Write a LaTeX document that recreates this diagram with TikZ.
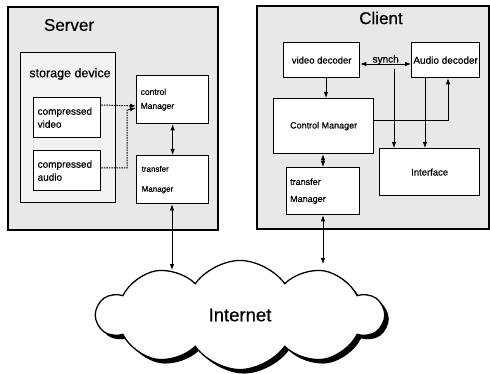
\documentclass[tikz,border=0pt]{standalone}
\usepackage{fontspec}
\setmainfont{Liberation Sans}[FakeBold=0.5]
\usetikzlibrary{arrows.meta,shapes.symbols,shadows}
\newcommand{\txtsize}[2]{\fontsize{#1}{#2}\selectfont}
\begin{document}
\begin{tikzpicture}[x=1pt,y=-1pt,
  panel/.style={draw=black, line width=1.6pt, fill=black!9},
  store/.style={draw=black, line width=1.4pt, fill=black!5},
  blk/.style={draw=black, line width=1.3pt, fill=white, anchor=north west, inner sep=0pt},
  title/.style={inner sep=0pt, font=\txtsize{17}{19}},
  tip/.style={-{Latex[length=6pt,width=4.5pt]}, line width=0.8pt},
  dtip/.style={{Latex[length=6pt,width=4.5pt]}-{Latex[length=6pt,width=4.5pt]}, line width=0.8pt},
  dottip/.style={-{Latex[length=6pt,width=4.5pt]}, line width=1pt, dash pattern=on 1.5pt off 1pt}]
\useasboundingbox (0,0) rectangle (490,374);

% ---------- server side ----------
\node[panel, anchor=north west, minimum width=210pt, minimum height=223pt] (server) at (7,6) {};
\node[title] (servertitle) at (69,25) {Server};
\node[store, anchor=north west, minimum width=95pt, minimum height=150pt] (storage) at (20,52) {};
\node[inner sep=0pt, font=\txtsize{12.5}{14}] (storagetitle) at (70,74) {storage device};
\node[blk, minimum width=67pt, minimum height=40pt, text width=59pt, align=left,
      font=\txtsize{10}{13}] (cvideo) at (33,97) {compressed\\video};
\node[blk, minimum width=67pt, minimum height=40pt, text width=59pt, align=left,
      font=\txtsize{10}{13}] (caudio) at (33,150) {compressed\\audio};
\node[blk, minimum width=72pt, minimum height=48pt, text width=64pt, align=left,
      font=\txtsize{8.5}{14}] (sctrl) at (136,75) {control\\Manager};
\node[blk, minimum width=72pt, minimum height=48pt, text width=62pt, align=left,
      font=\txtsize{8}{20}] (strans) at (136,155) {transfer\\Manager};

\coordinate (abend) at (127,168);
\coordinate (abtop) at (127,110);
\draw[dottip] (cvideo.east |- 0,105) -- (sctrl.west |- 0,106);
\draw[dottip] (caudio.east |- abend) -- (abend) -- (abtop) -- (sctrl.west |- 0,108);
\draw[dtip] (sctrl.south) -- (strans.north);

% ---------- client side ----------
\node[panel, anchor=north west, minimum width=232pt, minimum height=223pt] (client) at (256,5) {};
\node[title] (clienttitle) at (381,18) {Client};
\node[blk, minimum width=76pt, minimum height=35pt, font=\txtsize{9.5}{11}] (vdec) at (283,42) {video decoder};
\node[blk, minimum width=68pt, minimum height=35pt, font=\txtsize{10}{11}] (adec) at (411,42) {Audio decoder};
\node[blk, minimum width=100pt, minimum height=55pt, font=\txtsize{9}{11}] (cctrl) at (273,98) {Control Manager};
\node[blk, minimum width=73pt, minimum height=47pt, text width=66pt, align=left,
      font=\txtsize{9}{17}] (ctrans) at (286,167) {transfer\\Manager};
\node[blk, minimum width=100pt, minimum height=47pt, font=\txtsize{9.5}{11}] (iface) at (379,148) {Interface};

\draw[dtip] (vdec.east |- 0,64) -- node[above=-2pt, inner sep=1pt, font=\txtsize{10}{11}] (synch) {synch} (adec.west |- 0,64);
\coordinate (syncdrop) at (394,69);
\draw[tip] (syncdrop) -- (syncdrop |- iface.north);
\draw[tip] (vdec.south -| 326,0) -- (cctrl.north -| 326,0);
\draw[tip] (adec.south -| 425,0) -- (iface.north -| 425,0);
\coordinate (cbend) at (448,120);
\draw[tip] (cctrl.east |- cbend) -- (cbend) -- (cbend |- adec.south);
\draw[dtip] (cctrl.south -| 323,0) -- (ctrans.north -| 323,0);

% ---------- network ----------
\node[cloud, cloud puffs=10, cloud puff arc=110, draw=black, line width=1.3pt, fill=white,
      minimum width=286pt, minimum height=80pt,
      drop shadow={shadow xshift=4pt, shadow yshift=-4pt, fill=black, opacity=1},
      font=\txtsize{18.5}{20}] (inet) at (240,315) {Internet};
\coordinate (inetS) at (172,270);
\coordinate (inetC) at (323,264);
\draw[dtip] (strans.south -| inetS) -- (inetS);
\draw[dtip] (ctrans.south -| inetC) -- (inetC);
\end{tikzpicture}
\end{document}
